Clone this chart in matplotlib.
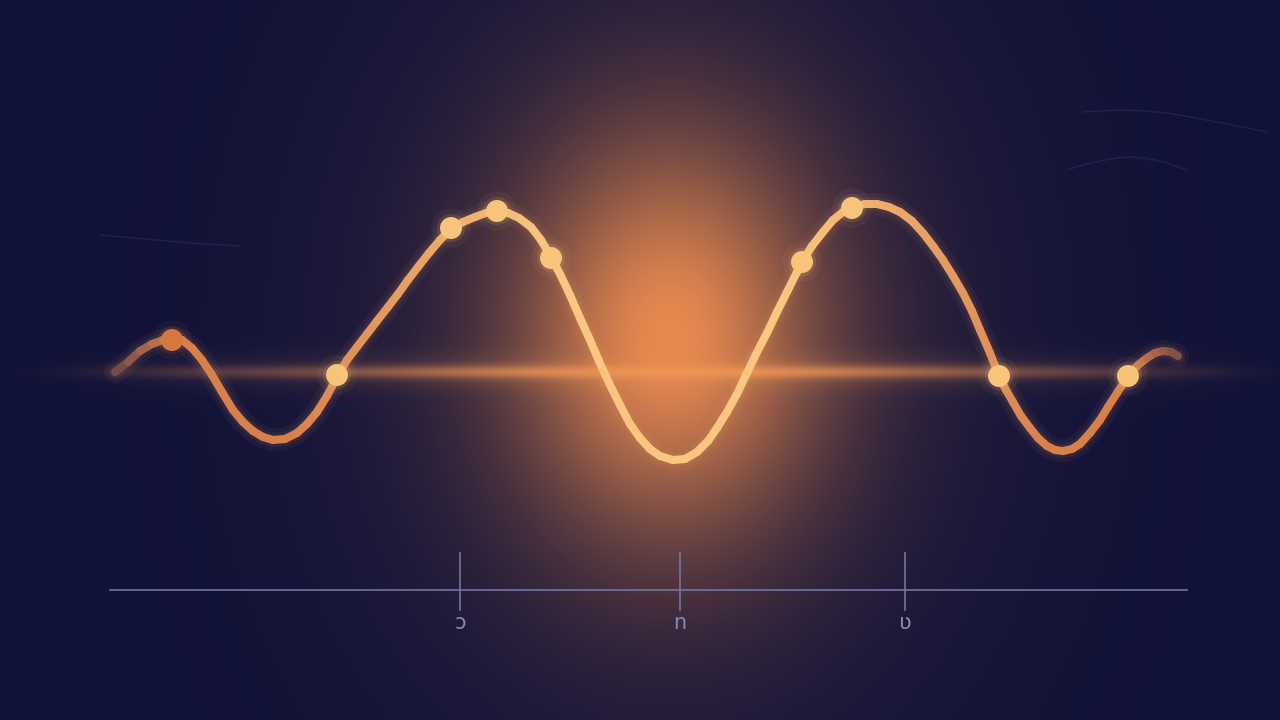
import numpy as np
import matplotlib
matplotlib.use('Agg')
import matplotlib.pyplot as plt
from matplotlib.collections import LineCollection

# wave (x in hundreds of px, y = level above the baseline)
wave_x = [1.15, 1.28, 1.40, 1.52, 1.63, 1.72, 1.82, 1.92, 2.02, 2.12, 2.22, 2.33, 2.43, 2.53, 2.63, 2.73,
          2.85, 2.97, 3.07, 3.17, 3.27, 3.37, 3.47, 3.57, 3.67, 3.77, 3.88, 3.98, 4.08, 4.18, 4.29, 4.40,
          4.51, 4.63, 4.75, 4.86, 4.97, 5.08, 5.19, 5.31, 5.41, 5.51, 5.61, 5.70, 5.80, 5.90, 5.99, 6.09,
          6.20, 6.30, 6.40, 6.50, 6.60, 6.73, 6.85, 6.97, 7.08, 7.17, 7.27, 7.37, 7.47, 7.57, 7.67, 7.77,
          7.87, 7.97, 8.02, 8.12, 8.23, 8.33, 8.43, 8.53, 8.65, 8.77, 8.89, 9.00, 9.12, 9.23, 9.33, 9.43,
          9.53, 9.63, 9.72, 9.80, 9.90, 9.99, 10.06, 10.13, 10.21, 10.30, 10.38, 10.47, 10.55, 10.63, 10.72,
          10.80, 10.90, 11.00, 11.08, 11.17, 11.28, 11.38, 11.47, 11.55, 11.63, 11.71, 11.78]
wave_y = [0.00, 0.10, 0.21, 0.28, 0.32, 0.34, 0.32, 0.24, 0.12, -0.03, -0.20, -0.38, -0.50, -0.59, -0.65, -0.68,
          -0.67, -0.61, -0.52, -0.40, -0.24, -0.05, 0.12, 0.25, 0.38, 0.51, 0.65, 0.78, 0.92, 1.05, 1.19, 1.32,
          1.43, 1.50, 1.55, 1.59, 1.61, 1.59, 1.54, 1.45, 1.32, 1.15, 0.96, 0.77, 0.54, 0.32, 0.11, -0.11,
          -0.33, -0.52, -0.66, -0.77, -0.84, -0.88, -0.87, -0.80, -0.69, -0.56, -0.40, -0.22, -0.01, 0.20, 0.39, 0.60,
          0.80, 1.00, 1.10, 1.26, 1.40, 1.52, 1.60, 1.65, 1.68, 1.68, 1.65, 1.60, 1.51, 1.39, 1.26, 1.12,
          0.96, 0.79, 0.61, 0.42, 0.19, -0.04, -0.18, -0.30, -0.44, -0.56, -0.66, -0.74, -0.78, -0.79, -0.77,
          -0.72, -0.61, -0.48, -0.35, -0.21, -0.04, 0.07, 0.14, 0.19, 0.21, 0.20, 0.16]

# highlighted points on the wave
dot_x = [1.72, 3.37, 4.51, 4.97, 5.51, 8.02, 8.52, 9.99, 11.28]
dot_y = [0.32, -0.03, 1.44, 1.61, 1.14, 1.10, 1.64, -0.04, -0.04]

# bottom axis
axis_start, axis_end, axis_level = 1.10, 11.87, -2.18
tick_pos = [4.60, 6.80, 9.05]
tick_labels = ['ɔ', 'n', 'ʋ']

# faint decorative strokes
arc1_x = [10.83, 11.00, 11.23, 11.45, 11.67, 11.90, 12.17, 12.42, 12.67]
arc1_y = [2.60, 2.61, 2.62, 2.61, 2.59, 2.55, 2.50, 2.45, 2.40]
arc2_x = [10.67, 10.83, 11.00, 11.17, 11.33, 11.50, 11.67, 11.87]
arc2_y = [2.02, 2.07, 2.11, 2.14, 2.15, 2.13, 2.09, 2.02]
arc3_x = [1.00, 1.45, 1.90, 2.40]
arc3_y = [1.37, 1.33, 1.29, 1.26]

W, H = 1280, 720
x0, x1, y0, y1 = 0.0, 12.8, -3.48, 3.72

# ---- background: navy with orange glow and a horizontal light streak
X, Y = np.meshgrid(np.linspace(x0, x1, W), np.linspace(y1, y0, H))
navy = np.array([17, 18, 56]) / 255
orange = np.array([236, 140, 80]) / 255
streak_c = np.array([240, 150, 85]) / 255

cx, cy = 6.70, 0.35
r2 = ((X - cx) * 1.05) ** 2 + ((Y - cy) * 0.8) ** 2
glow = 0.78 * np.exp(-r2 / (2 * 1.1 ** 2)) + 0.20 * np.exp(-r2 / (2 * 2.1 ** 2))
glow = np.clip(glow, 0, 1)

sy = np.exp(-(Y - 0.0) ** 2 / (2 * 0.045 ** 2)) + 0.35 * np.exp(-(Y - 0.0) ** 2 / (2 * 0.13 ** 2))
sx = (0.20 + 0.45 * np.exp(-((X - cx) / 3.0) ** 2)) * np.exp(-((X - 6.55) / 5.5) ** 8)
streak = np.clip(sy * sx, 0, 1)

img = navy[None, None, :] * (1 - glow[..., None]) + orange[None, None, :] * glow[..., None]
img = img * (1 - streak[..., None]) + streak_c[None, None, :] * streak[..., None]
img = np.clip(img, 0, 1)

fig = plt.figure(figsize=(12.8, 7.2), dpi=100)
ax = fig.add_axes([0, 0, 1, 1])
ax.imshow(img, extent=(x0, x1, y0, y1), origin='upper', aspect='auto', zorder=0, interpolation='bilinear')
ax.set_xlim(x0, x1)
ax.set_ylim(y0, y1)
ax.axis('off')

# faint strokes
for sx_, sy_ in [(arc1_x, arc1_y), (arc2_x, arc2_y), (arc3_x, arc3_y)]:
    ax.plot(sx_, sy_, color='#5a5a8a', lw=1.0, alpha=0.22, zorder=1, solid_capstyle='round')

# ---- wave: light peach in the centre, orange towards the sides, fading at both ends
wx = np.array(wave_x)
wy = np.array(wave_y)
pts = np.column_stack([wx, wy]).reshape(-1, 1, 2)
segs = np.concatenate([pts[:-1], pts[1:]], axis=1)
mid = (wx[:-1] + wx[1:]) / 2

peach = np.array([250, 198, 128]) / 255
deep = np.array([216, 128, 76]) / 255
t = np.clip((np.abs(mid - cx) - 1.2) / 2.6, 0, 1)
cols = peach[None, :] * (1 - t[:, None]) + deep[None, :] * t[:, None]
fade = np.ones_like(mid)
fade = np.where(mid < 1.75, 0.3 + 0.7 * (mid - 1.15) / 0.6, fade)
fade = np.where(mid > 11.35, 1 - 0.6 * (mid - 11.35) / 0.43, fade)
fade = np.clip(fade, 0.25, 1)
dull = np.array([60, 45, 70]) / 255
cols = cols * fade[:, None] + dull[None, :] * (1 - fade[:, None])

# soft halo below the line
ax.plot(wx, wy, color='#f0a060', lw=16, alpha=0.06, solid_capstyle='round', solid_joinstyle='round', zorder=2)
ax.plot(wx, wy, color='#f0a868', lw=10, alpha=0.08, solid_capstyle='round', solid_joinstyle='round', zorder=2)
ax.add_collection(LineCollection(segs, colors=cols, linewidths=5.8, capstyle='round', joinstyle='round', zorder=3))

# ---- dots with a soft halo
dot_colors = ['#d4783f'] + ['#f8c47a'] * (len(dot_x) - 1)
ax.scatter(dot_x, dot_y, s=800, c=dot_colors, alpha=0.06, linewidths=0, zorder=4)
ax.scatter(dot_x, dot_y, s=420, c=dot_colors, alpha=0.12, linewidths=0, zorder=4)
ax.scatter(dot_x, dot_y, s=250, c=dot_colors, linewidths=0, zorder=5)

# ---- bottom axis with three ticks
axis_col = '#7c7aa6'
ax.plot([axis_start, axis_end], [axis_level, axis_level], color=axis_col, lw=1.3, alpha=0.85, zorder=2)
for p, lab in zip(tick_pos, tick_labels):
    ax.plot([p, p], [axis_level + 0.37, axis_level - 0.20], color=axis_col, lw=1.3, alpha=0.85, zorder=2)
    ax.text(p, axis_level - 0.33, lab, color='#8a88b4', fontsize=15, ha='center', va='center',
            family=['DejaVu Sans'], zorder=3)

fig.savefig('out.png', dpi=100)
